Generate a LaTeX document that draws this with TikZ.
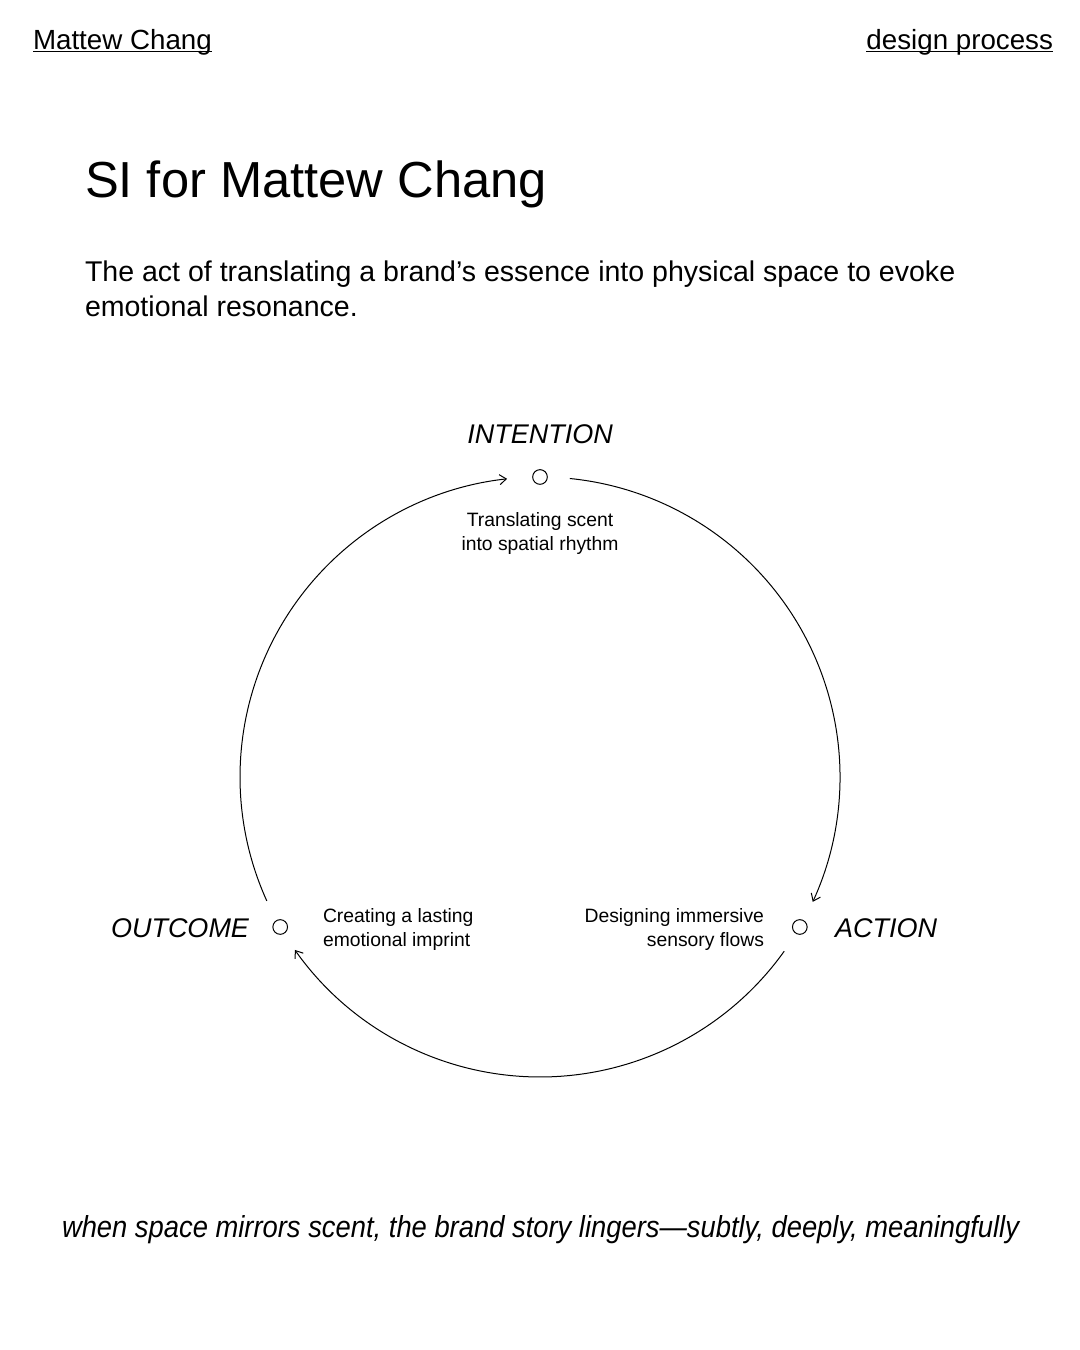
\documentclass[tikz,border=0pt]{standalone}
\usepackage{fontspec}
\setmainfont{Liberation Sans}
\usepackage{graphicx}
\usetikzlibrary{calc,arrows.meta}
\begin{document}
\begin{tikzpicture}[x=0.75pt,y=0.75pt,
  every node/.style={inner sep=0pt,outer sep=0pt},
  header/.style={font=\fontsize{20.8pt}{24pt}\selectfont},
  uline/.style={line width=0.75pt},
  titletext/.style={font=\fontsize{38pt}{44pt}\selectfont},
  subtext/.style={font=\fontsize{21.4pt}{26.25pt}\selectfont,align=left},
  phase/.style={font=\fontsize{20.25pt}{24pt}\selectfont\itshape},
  note/.style={font=\fontsize{14.5pt}{18pt}\selectfont},
  dot/.style={circle,draw,line width=0.75pt,minimum size=11pt,fill=white},
  conn/.style={line width=0.75pt,-{Straight Barb[length=5pt,width=7.5pt,line width=0.75pt]}}
]
\useasboundingbox (0,0) rectangle (1080,1350);
\fill[white] (0,0) rectangle (1080,1350);

% header
\node[header,anchor=base west] (hl) at (33,1300) {Mattew Chang};
\node[header,anchor=base east] (hr) at (1053,1300) {design process};
\draw[uline] ($(hl.base west)+(0,-2)$) -- ($(hl.base east)+(0,-2)$);
\draw[uline] ($(hr.base west)+(0,-2)$) -- ($(hr.base east)+(0,-2)$);

% title and subtitle
\node[titletext,anchor=base west] (title) at (85,1152) {SI for Mattew Chang};
\node[subtext,anchor=north west] (sub) at (85,1089) {The act of translating a brand’s essence into physical space to evoke\\emotional resonance.};

% cycle
\coordinate (c) at (540,573);
\node[dot] (int) at ($(c)+(90:300)$) {};
\node[dot] (act) at ($(c)+(-30:300)$) {};
\node[dot] (out) at ($(c)+(210:300)$) {};

\coordinate (a1) at ($(c)+(84.3:300)$);
\coordinate (a2) at ($(c)+(-35.5:300)$);
\coordinate (a3) at ($(c)+(204.4:300)$);
\draw[conn] (a1) arc[start angle=84.3,end angle=-24.6,radius=300];
\draw[conn] (a2) arc[start angle=-35.5,end angle=-144.8,radius=300];
\draw[conn] (a3) arc[start angle=204.4,end angle=96.3,radius=300];

% labels
\node[phase,anchor=base] (lint) at (540,906) {INTENTION};
\node[phase,anchor=base east] (lout) at (249,412) {OUTCOME};
\node[phase,anchor=base west] (lact) at (835,412) {ACTION};

\node[note,align=center,anchor=north] (nint) at (540,838) {Translating scent\\into spatial rhythm};
\node[note,align=left,anchor=west] (nout) at (323,420) {Creating a lasting\\emotional imprint};
\node[note,align=right,anchor=east] (nact) at (764,420) {Designing immersive\\sensory flows};

% footer
\node[anchor=base west] (foot) at (62,112) {\resizebox{717.75pt}{16.5pt}{\itshape when space mirrors scent, the brand story lingers—subtly, deeply, meaningfully}};
\end{tikzpicture}
\end{document}
